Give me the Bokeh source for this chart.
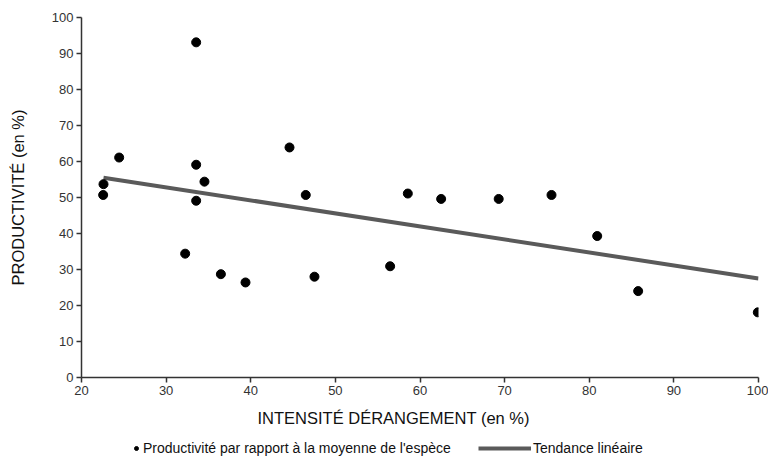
from bokeh.plotting import figure
from bokeh.models import Range1d, FixedTicker, Legend, LegendItem, Title
from bokeh.layouts import column
from bokeh.embed import file_html
from bokeh.resources import INLINE

# Data
intensite = [22.56, 22.6, 24.45, 33.55, 34.53, 33.55, 32.25, 36.47, 39.38, 33.55,
             46.5, 44.58, 47.53, 58.56, 56.47, 62.5, 69.3, 75.54, 80.94, 85.78, 99.92]
productivite = [50.7, 53.7, 61.1, 59.1, 54.4, 49.1, 34.4, 28.7, 26.4, 93.1,
                50.7, 63.9, 28.0, 51.1, 30.9, 49.6, 49.6, 50.7, 39.3, 24.0, 18.1]
tendance_x = [22.6, 100]
tendance_y = [55.5, 27.5]
x_ticks = [20, 30, 40, 50, 60, 70, 80, 90, 100]
y_ticks = [0, 10, 20, 30, 40, 50, 60, 70, 80, 90, 100]

FONT = "Liberation Sans"
DOT_COLOR = "black"
LINE_COLOR = "#5a5a5a"

p = figure(width=768, height=440, x_range=Range1d(20, 100), y_range=Range1d(0, 100),
           output_backend="svg", toolbar_location=None,
           min_border_left=81, min_border_right=10, min_border_top=17, min_border_bottom=63)
p.outline_line_color = None
p.grid.visible = False
p.background_fill_color = "white"
p.border_fill_color = "white"

for ax in (p.xaxis[0], p.yaxis[0]):
    ax.axis_line_color = "#333333"
    ax.axis_line_width = 1.5
    ax.major_tick_line_color = "#333333"
    ax.major_tick_line_width = 1.5
    ax.major_tick_in = 0
    ax.major_tick_out = 5
    ax.minor_tick_line_color = None
    ax.major_label_text_font = FONT
    ax.major_label_text_font_size = "13px"
    ax.major_label_text_color = "#333333"
    ax.major_label_standoff = 3

p.xaxis[0].ticker = FixedTicker(ticks=x_ticks)
p.yaxis[0].ticker = FixedTicker(ticks=y_ticks)
p.yaxis[0].axis_label = "PRODUCTIVITÉ (en %)"
p.yaxis[0].axis_label_text_font = FONT
p.yaxis[0].axis_label_text_font_size = "16.5px"
p.yaxis[0].axis_label_text_font_style = "normal"
p.yaxis[0].axis_label_text_color = "#111111"
p.yaxis[0].axis_label_standoff = 22

p.line(tendance_x, tendance_y, line_width=4, line_color=LINE_COLOR)
p.scatter(intensite, productivite, size=9, fill_color=DOT_COLOR, line_color=DOT_COLOR)

xtitle = Title(text="INTENSITÉ DÉRANGEMENT (en %)", align="left", offset=176,
               text_font=FONT, text_font_size="16.5px", text_font_style="normal",
               text_color="#111111", standoff=19)
p.add_layout(xtitle, "below")

# Legend strip below the chart (swatch renderers sit outside the visible range)
p2 = figure(width=768, height=22, output_backend="svg", toolbar_location=None,
            x_range=Range1d(0, 1), y_range=Range1d(0, 1),
            x_axis_location=None, y_axis_location=None, min_border=0)
p2.outline_line_color = None
p2.grid.visible = False
p2.background_fill_color = "white"
p2.border_fill_color = "white"
r_pts = p2.scatter(x=[-5], y=[-5], size=9, fill_color=DOT_COLOR, line_color=DOT_COLOR)
r_line = p2.line(x=[-6, -5], y=[-5, -5], line_width=4, line_color=LINE_COLOR)

common = dict(padding=0, margin=0, border_line_color=None, background_fill_alpha=0,
              label_text_font=FONT, label_text_font_size="14px", label_text_color="#111111",
              label_standoff=2, glyph_height=14, label_height=14, spacing=0)
leg1 = Legend(items=[LegendItem(label="Productivité par rapport à la moyenne de l'espèce",
                                renderers=[r_pts])],
              location=(50, 6), glyph_width=10, **common)
leg2 = Legend(items=[LegendItem(label="Tendance linéaire", renderers=[r_line])],
              location=(397, 6), glyph_width=53, **common)
p2.add_layout(leg1)
p2.add_layout(leg2)

layout = column(p, p2, spacing=0)
open("out.html", "w").write(file_html(layout, INLINE))
